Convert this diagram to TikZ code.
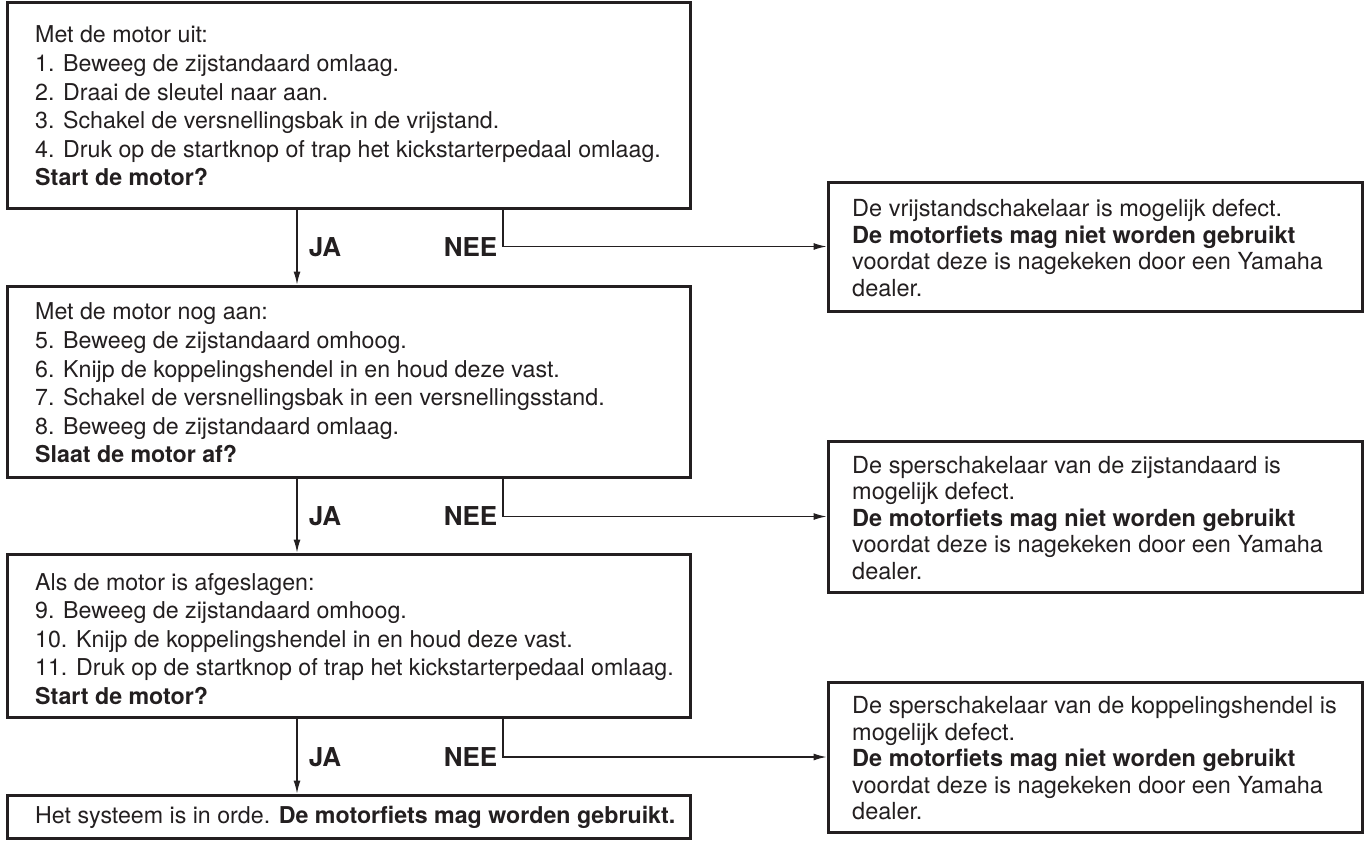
\documentclass[tikz,border=0pt]{standalone}
\usepackage{fontspec}
\setmainfont{TeX Gyre Heros}
\usetikzlibrary{arrows.meta}
\definecolor{ink}{HTML}{231F20}
\begin{document}
\begin{tikzpicture}[x=1bp,y=-1bp,
  box/.style={draw=ink, line width=3bp, inner sep=0pt},
  txt/.style={anchor=west, align=left, inner sep=0pt, text=ink, font=\fontsize{23.2bp}{28.6bp}\selectfont},
  rtxt/.style={anchor=west, align=left, inner sep=0pt, text=ink, font=\fontsize{23.5bp}{26.5bp}\selectfont},
  lab/.style={inner sep=0pt, text=ink, font=\fontsize{26bp}{30bp}\selectfont\bfseries},
  conn/.style={draw=ink, line width=1.2bp},
  arr/.style={conn, -{Latex[length=13bp,width=7bp]}}]
\useasboundingbox (0,0) rectangle (1370,840);
% main column boxes
\node[box, minimum width=682bp, minimum height=205bp] (b1) at (349,105.5) {};
\node[txt] (t1) at (35,106) {Met de motor uit:\\
1. Beweeg de zijstandaard omlaag.\\
2. Draai de sleutel naar aan.\\
3. Schakel de versnellingsbak in de vrijstand.\\
4. Druk op de startknop of trap het kickstarterpedaal omlaag.\\
\textbf{Start de motor?}};
\node[box, minimum width=682bp, minimum height=191bp] (b2) at (349,381.5) {};
\node[txt] (t2) at (35,383) {Met de motor nog aan:\\
5. Beweeg de zijstandaard omhoog.\\
6. Knijp de koppelingshendel in en houd deze vast.\\
7. Schakel de versnellingsbak in een versnellingsstand.\\
8. Beweeg de zijstandaard omlaag.\\
\textbf{Slaat de motor af?}};
\node[box, minimum width=682bp, minimum height=163bp] (b3) at (349,635.5) {};
\node[txt] (t3) at (35,639) {Als de motor is afgeslagen:\\
9. Beweeg de zijstandaard omhoog.\\
10. Knijp de koppelingshendel in en houd deze vast.\\
11. Druk op de startknop of trap het kickstarterpedaal omlaag.\\
\textbf{Start de motor?}};
\node[box, minimum width=682bp, minimum height=43bp] (b4) at (349,816.5) {};
\node[txt] (t4) at (35,817) {Het systeem is in orde. \textbf{De motorfiets mag worden gebruikt.}};
% right boxes
\node[box, minimum width=534bp, minimum height=129bp] (r1) at (1095,246.5) {};
\node[rtxt] (s1) at (852,248) {De vrijstandschakelaar is mogelijk defect.\\
\textbf{De motorfiets mag niet worden gebruikt}\\
voordat deze is nagekeken door een Yamaha\\
dealer.};
\node[box, minimum width=534bp, minimum height=151bp] (r2) at (1095,516.5) {};
\node[rtxt] (s2) at (852,518) {De sperschakelaar van de zijstandaard is\\
mogelijk defect.\\
\textbf{De motorfiets mag niet worden gebruikt}\\
voordat deze is nagekeken door een Yamaha\\
dealer.};
\node[box, minimum width=534bp, minimum height=150bp] (r3) at (1095,757) {};
\node[rtxt] (s3) at (852,758.5) {De sperschakelaar van de koppelingshendel is\\
mogelijk defect.\\
\textbf{De motorfiets mag niet worden gebruikt}\\
voordat deze is nagekeken door een Yamaha\\
dealer.};
% labels
\node[lab] (ja1) at (325,247) {JA};
\node[lab] (nee1) at (470.5,247) {NEE};
\node[lab] (ja2) at (325,516) {JA};
\node[lab] (nee2) at (470.5,516) {NEE};
\node[lab] (ja3) at (325,757) {JA};
\node[lab] (nee3) at (470.5,757) {NEE};
% connector columns
\coordinate (ax) at (297,0);
\coordinate (nx) at (503,0);
\draw[arr] (b1.south -| ax) -- (b2.north -| ax);
\draw[arr] (b2.south -| ax) -- (b3.north -| ax);
\draw[arr] (b3.south -| ax) -- (b4.north -| ax);
\draw[arr] (b1.south -| nx) |- (r1.west);
\draw[arr] (b2.south -| nx) |- (r2.west);
\draw[arr] (b3.south -| nx) |- (r3.west);
\end{tikzpicture}
\end{document}
